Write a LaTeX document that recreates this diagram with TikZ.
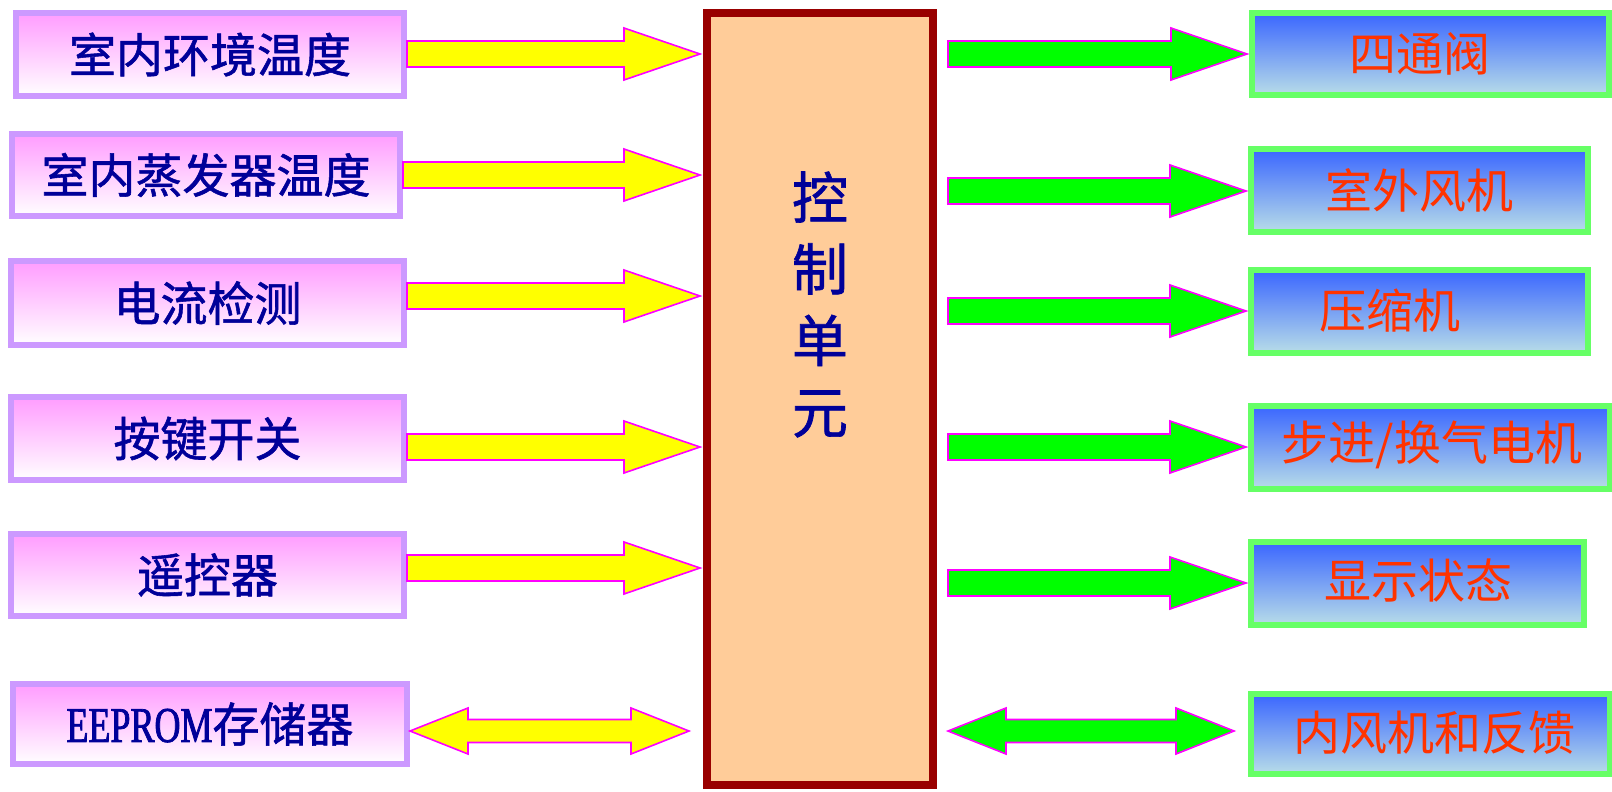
\documentclass[tikz,border=0pt]{standalone}
\usepackage{fontspec}
\newfontfamily\cjk{Noto Sans CJK SC}
\newfontfamily\cjkb[FakeBold=1.2]{Noto Sans CJK SC}
\newfontfamily\latinserif[FakeStretch=0.72,FakeBold=1.5]{Liberation Serif}
\usetikzlibrary{calc}
\definecolor{navytext}{HTML}{000099}
\definecolor{redtext}{HTML}{FF3300}
\definecolor{leftborder}{HTML}{CC99FF}
\definecolor{lefttop}{HTML}{FF9CFF}
\definecolor{rightborder}{HTML}{66FF66}
\definecolor{righttop}{HTML}{3A66FF}
\definecolor{rightbottom}{HTML}{B8DDE8}
\definecolor{ctrlborder}{HTML}{990000}
\definecolor{ctrlfill}{HTML}{FFCC99}
\definecolor{arrowline}{HTML}{FF00FF}
\definecolor{yellowfill}{HTML}{FFFF00}
\definecolor{greenfill}{HTML}{00FF00}
\newcommand{\fatarrow}[3]{%
  \draw[#1] ($(#2)+(0,-13)$) -- ($(#3)+(-76,-13)$) -- ($(#3)+(-76,-26)$) -- (#3)
    -- ($(#3)+(-76,26)$) -- ($(#3)+(-76,13)$) -- ($(#2)+(0,13)$) -- cycle;}
\newcommand{\fatdoublearrow}[3]{%
  \draw[#1] (#2) -- ($(#2)+(58,-23)$) -- ($(#2)+(58,-11.5)$) -- ($(#3)+(-58,-11.5)$)
    -- ($(#3)+(-58,-23)$) -- (#3) -- ($(#3)+(-58,23)$) -- ($(#3)+(-58,11.5)$)
    -- ($(#2)+(58,11.5)$) -- ($(#2)+(58,23)$) -- cycle;}
\tikzset{
  inbox/.style={draw=leftborder, line width=6pt, top color=lefttop, bottom color=white,
    inner sep=0pt, text=navytext, font=\cjkb\fontsize{47}{47}\selectfont},
  outbox/.style={draw=rightborder, line width=6pt, top color=righttop, bottom color=rightbottom,
    inner sep=0pt},
  outlabel/.style={inner sep=0pt, text=redtext, font=\cjk\fontsize{47}{47}\selectfont},
  ctrlbox/.style={draw=ctrlborder, fill=ctrlfill, line width=8pt, inner sep=0pt},
  ctrllabel/.style={inner sep=0pt, text=navytext, align=center,
    font=\cjkb\fontsize{56}{71.5}\selectfont},
  yarrow/.style={fill=yellowfill, draw=arrowline, line width=1.6pt, line join=miter},
  garrow/.style={fill=greenfill, draw=arrowline, line width=1.6pt, line join=miter}
}
\begin{document}
\begin{tikzpicture}[x=1pt,y=-1pt]
\useasboundingbox (0,0) rectangle (1612,792);
% left boxes
\node[inbox, minimum width=388pt, minimum height=83pt] (L1) at (210,54.5) {室内环境温度};
\node[inbox, minimum width=388pt, minimum height=82pt] (L2) at (206,175) {室内蒸发器温度};
\node[inbox, minimum width=393pt, minimum height=84pt] (L3) at (207.5,303) {电流检测};
\node[inbox, minimum width=393pt, minimum height=83pt] (L4) at (207.5,438.5) {按键开关};
\node[inbox, minimum width=393pt, minimum height=82pt] (L5) at (207.5,575) {遥控器};
\node[inbox, minimum width=394pt, minimum height=80pt] (L6) at (210,724) {{\latinserif\fontsize{50}{50}\selectfont EEPROM}存储器};
% control unit
\node[ctrlbox, minimum width=226pt, minimum height=772pt] (C) at (820,399) {};
\node[ctrllabel] (CL) at (820,304.5) {控\\制\\单\\元};
% right boxes
\node[outbox, minimum width=357pt, minimum height=82pt] (R1) at (1430.5,54) {};
\node[outbox, minimum width=337pt, minimum height=83pt] (R2) at (1419.5,190.5) {};
\node[outbox, minimum width=337pt, minimum height=83pt] (R3) at (1419.5,311.5) {};
\node[outbox, minimum width=359pt, minimum height=83pt] (R4) at (1430.5,447.5) {};
\node[outbox, minimum width=333pt, minimum height=83pt] (R5) at (1417.5,583.5) {};
\node[outbox, minimum width=359pt, minimum height=80pt] (R6) at (1430.5,734) {};
\node[outlabel] (T1) at (1420,54) {四通阀};
\node[outlabel] (T2) at (1419,190) {室外风机};
\node[outlabel] (T3) at (1390,311) {压缩机};
\node[outlabel] (T4) at (1432,445) {步进/换气电机};
\node[outlabel] (T5) at (1418,581) {显示状态};
\node[outlabel] (T6) at (1434,733) {内风机和反馈};
% arrow end points
\coordinate (a1s) at (L1.east |- 0,54);  \coordinate (a1t) at ([xshift=-3pt]C.west |- 0,54);
\coordinate (a2s) at (L2.east |- 0,175); \coordinate (a2t) at ([xshift=-3pt]C.west |- 0,175);
\coordinate (a3s) at (L3.east |- 0,296); \coordinate (a3t) at ([xshift=-3pt]C.west |- 0,296);
\coordinate (a4s) at (L4.east |- 0,447); \coordinate (a4t) at ([xshift=-3pt]C.west |- 0,447);
\coordinate (a5s) at (L5.east |- 0,568); \coordinate (a5t) at ([xshift=-3pt]C.west |- 0,568);
\coordinate (a6s) at (L6.east |- 0,731); \coordinate (a6t) at ([xshift=-14pt]C.west |- 0,731);
\coordinate (b1s) at ([xshift=11pt]C.east |- 0,54);  \coordinate (b1t) at ([xshift=-2pt]R1.west |- 0,54);
\coordinate (b2s) at ([xshift=11pt]C.east |- 0,191); \coordinate (b2t) at ([xshift=-2pt]R2.west |- 0,191);
\coordinate (b3s) at ([xshift=11pt]C.east |- 0,311); \coordinate (b3t) at ([xshift=-2pt]R3.west |- 0,311);
\coordinate (b4s) at ([xshift=11pt]C.east |- 0,447); \coordinate (b4t) at ([xshift=-2pt]R4.west |- 0,447);
\coordinate (b5s) at ([xshift=11pt]C.east |- 0,583); \coordinate (b5t) at ([xshift=-2pt]R5.west |- 0,583);
\coordinate (b6s) at ([xshift=11pt]C.east |- 0,731); \coordinate (b6t) at ([xshift=-14pt]R6.west |- 0,731);
% arrows
\fatarrow{yarrow}{a1s}{a1t}
\fatarrow{yarrow}{a2s}{a2t}
\fatarrow{yarrow}{a3s}{a3t}
\fatarrow{yarrow}{a4s}{a4t}
\fatarrow{yarrow}{a5s}{a5t}
\fatdoublearrow{yarrow}{a6s}{a6t}
\fatarrow{garrow}{b1s}{b1t}
\fatarrow{garrow}{b2s}{b2t}
\fatarrow{garrow}{b3s}{b3t}
\fatarrow{garrow}{b4s}{b4t}
\fatarrow{garrow}{b5s}{b5t}
\fatdoublearrow{garrow}{b6s}{b6t}
\end{tikzpicture}
\end{document}
